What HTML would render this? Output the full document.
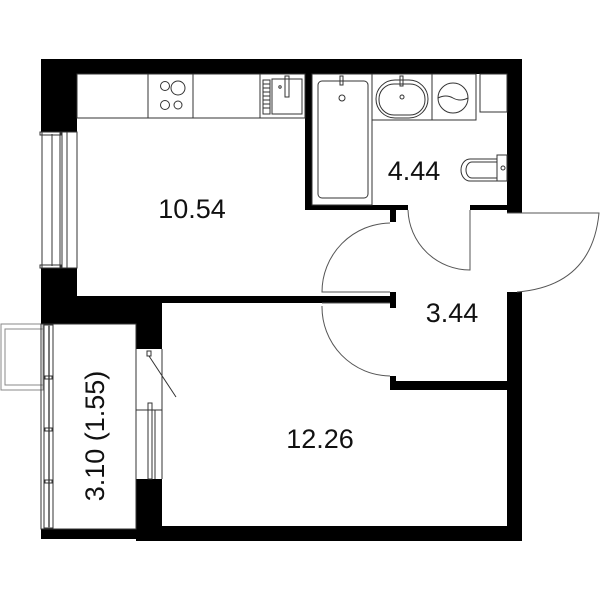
<!DOCTYPE html>
<html><head><meta charset="utf-8"><style>html,body{margin:0;padding:0;background:#fff}svg{display:block}text{font-family:"Liberation Sans",sans-serif;font-size:27px;fill:#111}</style></head>
<body>
<svg width="600" height="600" viewBox="0 0 600 600" xmlns="http://www.w3.org/2000/svg">
<g fill="#000">
<rect x="41" y="59" width="481" height="15"/>
<rect x="41" y="59" width="36" height="73"/>
<rect x="41" y="268" width="36" height="56"/>
<rect x="41" y="296" width="121" height="28"/>
<rect x="77" y="296" width="313" height="7"/>
<rect x="390" y="292" width="6" height="16"/>
<rect x="136" y="296" width="26" height="53"/>
<rect x="136" y="479" width="26" height="62"/>
<rect x="41" y="529" width="100" height="10"/>
<rect x="136" y="526" width="386" height="15"/>
<rect x="507" y="59" width="15" height="154"/>
<rect x="507" y="292" width="15" height="249"/>
<rect x="305" y="59" width="7" height="151"/>
<rect x="305" y="205" width="103" height="5"/>
<rect x="470" y="205" width="37" height="5"/>
<rect x="390" y="205" width="6" height="17"/>
<rect x="390" y="381" width="132" height="9"/>
<rect x="390" y="376" width="6" height="14"/>
</g>
<g fill="none" stroke="#333" stroke-width="1">
<rect x="42" y="132" width="18" height="136"/>
<line x1="52" y1="134" x2="52" y2="266"/>
<rect x="40" y="132" width="21" height="3"/><rect x="40" y="265" width="21" height="3"/>
<rect x="62" y="132" width="15" height="136"/><line x1="67" y1="132" x2="67" y2="268"/>
<rect x="1" y="324" width="42" height="66" stroke="#888"/>
<rect x="5" y="329" width="38" height="56" stroke="#888"/>
<rect x="41" y="324" width="95" height="205"/>
<rect x="44" y="325" width="9" height="203"/>
<line x1="49" y1="325" x2="49" y2="528" stroke="#777" stroke-width="2"/>
<rect x="45" y="376" width="7" height="3"/><rect x="45" y="428" width="7" height="3"/><rect x="45" y="480" width="7" height="3"/>
<line x1="136" y1="349" x2="136" y2="479"/>
<line x1="162" y1="349" x2="162" y2="479"/>
<line x1="136" y1="410" x2="162" y2="410"/>
<rect x="147" y="351" width="4" height="5"/>
<line x1="149" y1="356" x2="176" y2="397"/>
<rect x="148" y="403" width="4" height="76"/>
<line x1="155" y1="410" x2="155" y2="479"/>
<rect x="77" y="74" width="228" height="44"/>
<line x1="148" y1="74" x2="148" y2="118"/><line x1="193" y1="74" x2="193" y2="118"/><line x1="260" y1="74" x2="260" y2="118"/>
<circle cx="165" cy="86" r="4.5"/><circle cx="178" cy="88" r="7"/><circle cx="165" cy="105" r="4.5"/><circle cx="178" cy="105" r="4"/>
<rect x="263" y="80" width="7" height="34"/>
<path d="M263 84h7M263 88h7M263 92h7M263 96h7M263 100h7M263 104h7M263 108h7"/>
<rect x="272" y="79" width="30" height="35"/>
<rect x="285" y="76" width="4" height="21"/>
<circle cx="280" cy="87" r="1.2"/>
<rect x="312" y="74" width="60" height="131"/>
<rect x="318" y="81" width="50" height="117" rx="4"/>
<rect x="340" y="76" width="3" height="9"/>
<circle cx="342" cy="98" r="3"/>
<rect x="372" y="74" width="60" height="46"/>
<rect x="376" y="80" width="52" height="38" rx="19"/>
<rect x="379" y="84" width="46" height="31" rx="15"/>
<rect x="400" y="76" width="3" height="10"/><circle cx="402" cy="97" r="2"/>
<rect x="432" y="74" width="44" height="46"/>
<circle cx="453" cy="98" r="15"/>
<path d="M438 98 q8 -4 15 0 t15 0"/>
<rect x="480" y="74" width="27" height="38"/>
<rect x="497" y="155" width="10" height="26"/>
<path d="M497 159 H470 a9 11 0 0 0 0 22 H497"/>
<path d="M497 162 H472 a6 8 0 0 0 0 16 H497"/>
<circle cx="503" cy="168" r="2"/>
<path d="M408 210 A62 62 0 0 0 470 270 V210" stroke="#555"/>
<path d="M390 223 A69 69 0 0 0 322 292 H390" stroke="#555"/>
<path d="M322 306 A69 69 0 0 0 390 376" stroke="#555"/>
<line x1="322" y1="303" x2="390" y2="303" stroke="#555"/>
<path d="M507 213 H599 Q592 286 517 292" stroke="#555"/>
</g>
<text x="192" y="218" text-anchor="middle">10.54</text>
<text x="414" y="180" text-anchor="middle">4.44</text>
<text x="452" y="322" text-anchor="middle">3.44</text>
<text x="320" y="448" text-anchor="middle">12.26</text>
<text transform="translate(104,436) rotate(-90)" text-anchor="middle">3.10 (1.55)</text>
</svg>
</body></html>
